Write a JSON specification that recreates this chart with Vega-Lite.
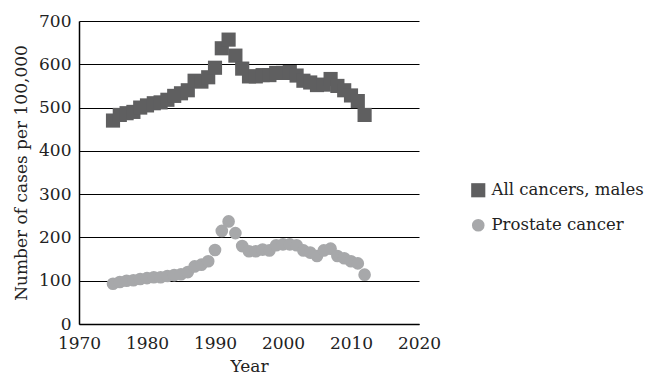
{
  "$schema": "https://vega.github.io/schema/vega-lite/v6.json",
  "autosize": {"type": "none"},
  "width": 340,
  "height": 303,
  "padding": {"left": 79, "top": 21, "right": 233, "bottom": 58},
  "background": "white",
  "config": {
    "font": "DejaVu Serif",
    "view": {"stroke": null},
    "axis": {"labelFont": "DejaVu Serif", "titleFont": "DejaVu Serif", "labelColor": "#222", "titleColor": "#222", "titleFontWeight": "normal"},
    "legend": {"labelFont": "DejaVu Serif"}
  },
  "data": {"values": [
    {"year":1975,"series":"All cancers, males","value":470},
    {"year":1976,"series":"All cancers, males","value":483},
    {"year":1977,"series":"All cancers, males","value":487},
    {"year":1978,"series":"All cancers, males","value":490},
    {"year":1979,"series":"All cancers, males","value":500},
    {"year":1980,"series":"All cancers, males","value":505},
    {"year":1981,"series":"All cancers, males","value":510},
    {"year":1982,"series":"All cancers, males","value":512},
    {"year":1983,"series":"All cancers, males","value":518},
    {"year":1984,"series":"All cancers, males","value":527},
    {"year":1985,"series":"All cancers, males","value":533},
    {"year":1986,"series":"All cancers, males","value":540},
    {"year":1987,"series":"All cancers, males","value":562},
    {"year":1988,"series":"All cancers, males","value":560},
    {"year":1989,"series":"All cancers, males","value":570},
    {"year":1990,"series":"All cancers, males","value":592},
    {"year":1991,"series":"All cancers, males","value":637},
    {"year":1992,"series":"All cancers, males","value":657},
    {"year":1993,"series":"All cancers, males","value":620},
    {"year":1994,"series":"All cancers, males","value":590},
    {"year":1995,"series":"All cancers, males","value":572},
    {"year":1996,"series":"All cancers, males","value":572},
    {"year":1997,"series":"All cancers, males","value":575},
    {"year":1998,"series":"All cancers, males","value":575},
    {"year":1999,"series":"All cancers, males","value":580},
    {"year":2000,"series":"All cancers, males","value":580},
    {"year":2001,"series":"All cancers, males","value":582},
    {"year":2002,"series":"All cancers, males","value":574},
    {"year":2003,"series":"All cancers, males","value":562},
    {"year":2004,"series":"All cancers, males","value":558},
    {"year":2005,"series":"All cancers, males","value":552},
    {"year":2006,"series":"All cancers, males","value":553},
    {"year":2007,"series":"All cancers, males","value":566},
    {"year":2008,"series":"All cancers, males","value":550},
    {"year":2009,"series":"All cancers, males","value":540},
    {"year":2010,"series":"All cancers, males","value":528},
    {"year":2011,"series":"All cancers, males","value":515},
    {"year":2012,"series":"All cancers, males","value":483},
    {"year":1975,"series":"Prostate cancer","value":93},
    {"year":1976,"series":"Prostate cancer","value":97},
    {"year":1977,"series":"Prostate cancer","value":100},
    {"year":1978,"series":"Prostate cancer","value":101},
    {"year":1979,"series":"Prostate cancer","value":104},
    {"year":1980,"series":"Prostate cancer","value":106},
    {"year":1981,"series":"Prostate cancer","value":108},
    {"year":1982,"series":"Prostate cancer","value":108},
    {"year":1983,"series":"Prostate cancer","value":111},
    {"year":1984,"series":"Prostate cancer","value":113},
    {"year":1985,"series":"Prostate cancer","value":115},
    {"year":1986,"series":"Prostate cancer","value":120},
    {"year":1987,"series":"Prostate cancer","value":133},
    {"year":1988,"series":"Prostate cancer","value":137},
    {"year":1989,"series":"Prostate cancer","value":145},
    {"year":1990,"series":"Prostate cancer","value":171},
    {"year":1991,"series":"Prostate cancer","value":215},
    {"year":1992,"series":"Prostate cancer","value":237},
    {"year":1993,"series":"Prostate cancer","value":210},
    {"year":1994,"series":"Prostate cancer","value":180},
    {"year":1995,"series":"Prostate cancer","value":168},
    {"year":1996,"series":"Prostate cancer","value":168},
    {"year":1997,"series":"Prostate cancer","value":172},
    {"year":1998,"series":"Prostate cancer","value":170},
    {"year":1999,"series":"Prostate cancer","value":182},
    {"year":2000,"series":"Prostate cancer","value":184},
    {"year":2001,"series":"Prostate cancer","value":184},
    {"year":2002,"series":"Prostate cancer","value":182},
    {"year":2003,"series":"Prostate cancer","value":170},
    {"year":2004,"series":"Prostate cancer","value":165},
    {"year":2005,"series":"Prostate cancer","value":157},
    {"year":2006,"series":"Prostate cancer","value":170},
    {"year":2007,"series":"Prostate cancer","value":174},
    {"year":2008,"series":"Prostate cancer","value":157},
    {"year":2009,"series":"Prostate cancer","value":152},
    {"year":2010,"series":"Prostate cancer","value":145},
    {"year":2011,"series":"Prostate cancer","value":140},
    {"year":2012,"series":"Prostate cancer","value":114}
  ]},
  "mark": {"type": "point", "filled": true, "opacity": 1},
  "encoding": {
    "x": {
      "field": "year", "type": "quantitative", "title": "Year",
      "scale": {"domain": [1970, 2020], "nice": false, "zero": false},
      "axis": {"values": [1970, 1980, 1990, 2000, 2010, 2020], "format": "d", "grid": false, "ticks": false, "labelFlush": false, "domainColor": "#000", "domainWidth": 1.5, "labelFontSize": 17, "labelPadding": 11, "titleFontSize": 17, "titlePadding": 7}
    },
    "y": {
      "field": "value", "type": "quantitative", "title": "Number of cases per 100,000",
      "scale": {"domain": [0, 700], "nice": false},
      "axis": {"values": [0, 100, 200, 300, 400, 500, 600, 700], "grid": true, "gridColor": "#000", "gridWidth": 1.2, "gridOpacity": 1, "ticks": false, "domainColor": "#000", "domainWidth": 1.5, "labelFontSize": 17, "labelPadding": 8, "titleFontSize": 17, "titlePadding": 8}
    },
    "color": {
      "field": "series", "type": "nominal",
      "scale": {"domain": ["All cancers, males", "Prostate cancer"], "range": ["#5f5f60", "#a7a8aa"]},
      "legend": {"title": null, "orient": "none", "legendX": 391, "legendY": 161, "labelFontSize": 16.5, "labelColor": "#222", "labelLimit": 300, "symbolSize": 130, "rowPadding": 14, "labelOffset": 5, "symbolOpacity": 1}
    },
    "shape": {
      "field": "series", "type": "nominal",
      "scale": {"domain": ["All cancers, males", "Prostate cancer"], "range": ["square", "circle"]}
    },
    "size": {
      "field": "series", "type": "nominal",
      "scale": {"domain": ["All cancers, males", "Prostate cancer"], "range": [200, 160]},
      "legend": null
    }
  }
}
